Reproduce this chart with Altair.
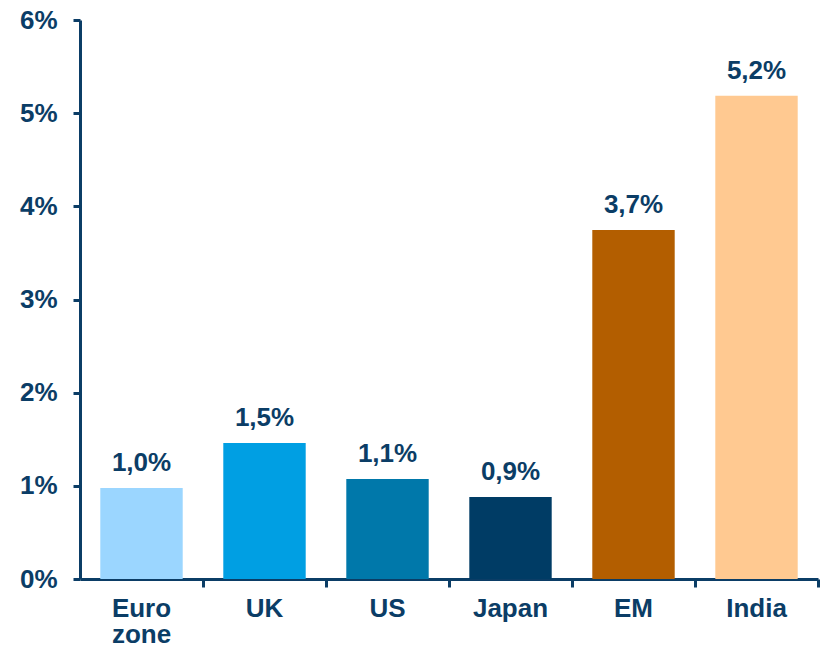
import altair as alt
import pandas as pd

categories = ["Euro zone", "UK", "US", "Japan", "EM", "India"]
values = [0.977, 1.46, 1.073, 0.88, 3.746, 5.187]
labels = ["1,0%", "1,5%", "1,1%", "0,9%", "3,7%", "5,2%"]
colors = ["#9BD6FF", "#009FE3", "#0078AA", "#003C65", "#B35E00", "#FFC991"]
y_ticks = [0, 1, 2, 3, 4, 5, 6]

navy = "#0B3D66"
font = "Liberation Sans"

df = pd.DataFrame({"cat": categories, "val": values, "lab": labels, "col": colors})

x = alt.X(
    "cat:N",
    sort=categories,
    scale=alt.Scale(paddingInner=0, paddingOuter=0),
    axis=alt.Axis(
        title=None,
        bandPosition=1,
        labelAngle=0,
        labelFont=font,
        labelFontWeight="bold",
        labelFontSize=26,
        labelColor=navy,
        labelPadding=8,
        labelLineHeight=26,
        labelExpr="datum.label == 'Euro zone' ? ['Euro', 'zone'] : datum.label",
        domainColor=navy,
        domainWidth=3,
        tickColor=navy,
        tickWidth=3,
        tickSize=8,
    ),
)

y = alt.Y(
    "val:Q",
    scale=alt.Scale(domain=[0, 6], nice=False),
    axis=alt.Axis(
        title=None,
        values=y_ticks,
        labelExpr="datum.value + '%'",
        labelFont=font,
        labelFontWeight="bold",
        labelFontSize=26,
        labelColor=navy,
        labelPadding=16,
        domainColor=navy,
        domainWidth=3,
        tickColor=navy,
        tickWidth=3,
        tickSize=7,
        grid=False,
    ),
)

bars = alt.Chart(df).mark_bar(width=alt.RelativeBandSize(0.67)).encode(
    x=x,
    y=y,
    color=alt.Color("col:N", scale=None),
)

text = alt.Chart(df).mark_text(
    font=font,
    fontWeight="bold",
    fontSize=26,
    color=navy,
    baseline="alphabetic",
    dy=-17,
).encode(
    x=alt.X("cat:N", sort=categories),
    y="val:Q",
    text="lab:N",
)

chart = (
    alt.layer(bars, text)
    .properties(
        width=738,
        height=559,
        autosize=alt.AutoSizeParams(type="none"),
        padding={"left": 72, "top": 12, "right": 4, "bottom": 66},
    )
    .configure_view(stroke=None)
)

chart.save("out.html", embed_options={"renderer": "svg", "actions": False})
